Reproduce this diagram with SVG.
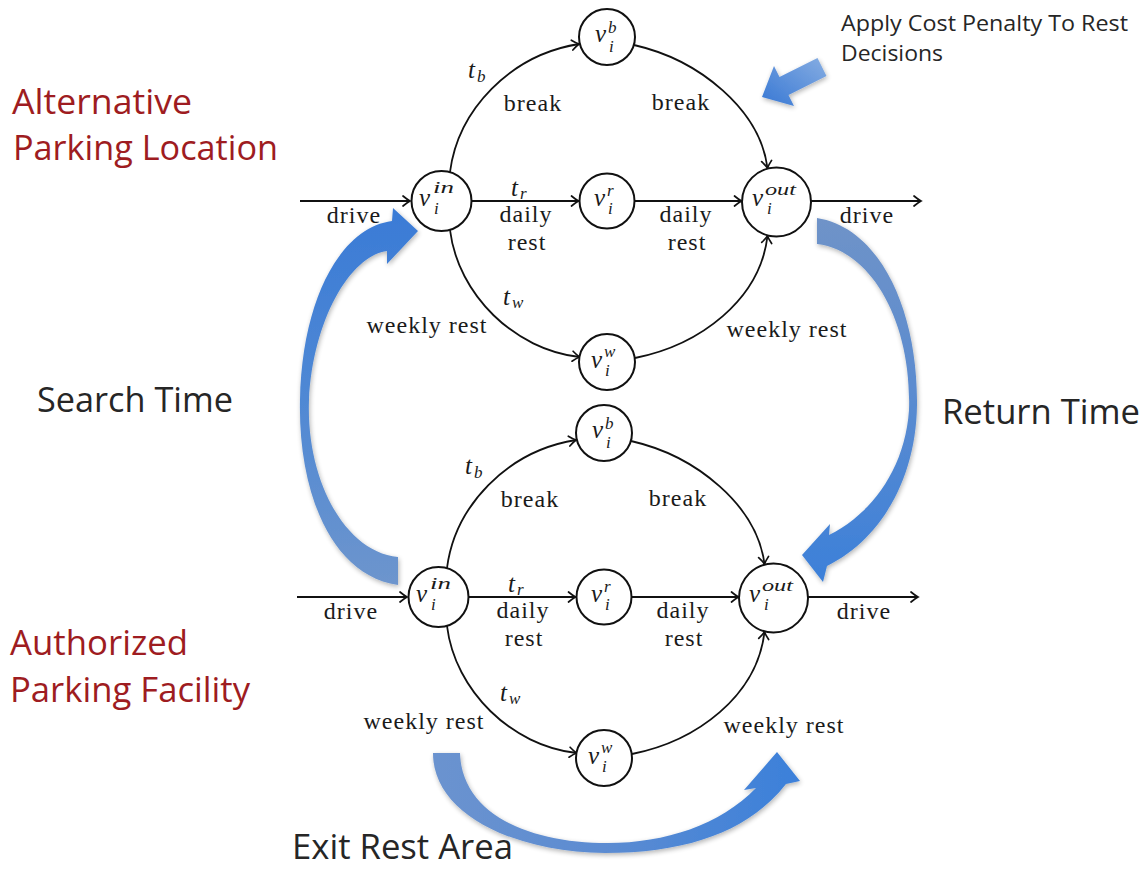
<svg xmlns="http://www.w3.org/2000/svg" width="1145" height="869" viewBox="0 0 1145 869">
  <style>
    .bg { fill: #ffffff; }
    .node circle { fill: #ffffff; stroke: #111111; stroke-width: 2; }
    .edge { fill: none; stroke: #111111; stroke-width: 1.8; marker-end: url(#to); }
    .lbl { font-family: "Liberation Serif", "DejaVu Serif", serif; font-size: 24px; letter-spacing: 1px; fill: #1a1a1a; text-anchor: middle; }
    .mi { font-family: "Liberation Serif", "DejaVu Serif", serif; font-style: italic; font-size: 25px; fill: #1a1a1a; }
    .ms { font-size: 17px; }
    .red { font-family: "Open Sans", "Noto Sans", sans-serif; font-size: 35px; fill: #9e1c21; }
    .dark { font-family: "Open Sans", "Noto Sans", sans-serif; font-size: 35px; fill: #262626; }
    .note { font-family: "Open Sans", "Noto Sans", sans-serif; font-size: 21px; fill: #262626; }
  </style>
  <defs>
    <marker id="to" viewBox="-9 -7 11 14" refX="0" refY="0" markerWidth="11" markerHeight="14" orient="auto" markerUnits="userSpaceOnUse">
      <path d="M-7,-5 C-4,-2.5 -1.5,-0.8 0,0 C-1.5,0.8 -4,2.5 -7,5" fill="none" stroke="#111111" stroke-width="1.7" stroke-linecap="round"/>
    </marker>
    <linearGradient id="gSearch" x1="0" y1="0" x2="0" y2="1">
      <stop offset="0" stop-color="#3a7bd6"/>
      <stop offset="0.5" stop-color="#4f88d4"/>
      <stop offset="1" stop-color="#6d95cd"/>
    </linearGradient>
    <linearGradient id="gReturn" x1="0" y1="0" x2="0" y2="1">
      <stop offset="0" stop-color="#6f93c8"/>
      <stop offset="0.5" stop-color="#5a8bd0"/>
      <stop offset="1" stop-color="#3c80d9"/>
    </linearGradient>
    <linearGradient id="gExit" x1="0" y1="0" x2="1" y2="0">
      <stop offset="0" stop-color="#6b93cf"/>
      <stop offset="0.5" stop-color="#5a8bd2"/>
      <stop offset="1" stop-color="#3b80da"/>
    </linearGradient>
    <linearGradient id="gPenalty" x1="1" y1="0" x2="0" y2="1">
      <stop offset="0" stop-color="#86ade2"/>
      <stop offset="1" stop-color="#3878d4"/>
    </linearGradient>
    <filter id="soft" x="-20%" y="-20%" width="140%" height="140%">
      <feGaussianBlur in="SourceAlpha" stdDeviation="2.5"/>
      <feOffset dx="1" dy="2"/>
      <feComponentTransfer><feFuncA type="linear" slope="0.3"/></feComponentTransfer>
      <feMerge><feMergeNode/><feMergeNode in="SourceGraphic"/></feMerge>
    </filter>
  </defs>

  <rect class="bg" x="0" y="0" width="1145" height="869"/>

  <!-- side captions -->
  <g id="captions">
    <text class="red" x="12" y="114" textLength="180" lengthAdjust="spacingAndGlyphs">Alternative</text>
    <text class="red" x="13" y="160" textLength="265" lengthAdjust="spacingAndGlyphs">Parking Location</text>
    <text class="dark" x="37" y="412" textLength="196" lengthAdjust="spacingAndGlyphs">Search Time</text>
    <text class="dark" x="942" y="424" textLength="198" lengthAdjust="spacingAndGlyphs">Return Time</text>
    <text class="red" x="10" y="655" textLength="178" lengthAdjust="spacingAndGlyphs">Authorized</text>
    <text class="red" x="10" y="702" textLength="240" lengthAdjust="spacingAndGlyphs">Parking Facility</text>
    <text class="dark" x="292" y="859" font-size="34" textLength="221" lengthAdjust="spacingAndGlyphs">Exit Rest Area</text>
    <text class="note" x="841" y="31" textLength="287" lengthAdjust="spacingAndGlyphs">Apply Cost Penalty To Rest</text>
    <text class="note" x="841" y="61" textLength="102" lengthAdjust="spacingAndGlyphs">Decisions</text>
  </g>

  <!-- upper network: alternative parking location -->
  <g id="upper-network">
    <g id="upper-connectors">
      <path class="edge" d="M300,201 H410"/>
      <path class="edge" d="M471.5,201 H578.5"/>
      <path class="edge" d="M634.5,201 H741.5"/>
      <path class="edge" d="M811,201 H921"/>
      <path class="edge" d="M450,172 C458,110 510,55 579,44"/>
      <path class="edge" d="M634,45 C700,60 760,110 767.5,168"/>
      <path class="edge" d="M450,230 C458,295 515,350 579.5,357"/>
      <path class="edge" d="M635,358 C700,345 760,300 767.5,236"/>
    </g>
    <g id="upper-edge-labels">
      <text class="lbl" x="354" y="223">drive</text>
      <text class="lbl" x="867" y="223">drive</text>
      <text class="lbl" x="533" y="111">break</text>
      <text class="lbl" x="681" y="110">break</text>
      <text class="lbl" x="526" y="222">daily</text>
      <text class="lbl" x="527" y="250">rest</text>
      <text class="lbl" x="686" y="222">daily</text>
      <text class="lbl" x="687" y="250">rest</text>
      <text class="lbl" x="427" y="333">weekly rest</text>
      <text class="lbl" x="787" y="337">weekly rest</text>
      <text class="mi" x="468" y="78">t</text><text class="mi ms" x="477" y="82">b</text>
      <text class="mi" x="511" y="196">t</text><text class="mi ms" x="520" y="199">r</text>
      <text class="mi" x="503" y="305">t</text><text class="mi ms" x="512" y="308">w</text>
    </g>
    <g id="upper-v-in" class="node">
      <circle cx="441.5" cy="201" r="30"/>
      <text class="mi" x="419" y="206">v</text>
      <text class="mi ms" x="433" y="193" textLength="21" lengthAdjust="spacingAndGlyphs">in</text>
      <text class="mi ms" x="434" y="214">i</text>
    </g>
    <g id="upper-v-b" class="node">
      <circle cx="607" cy="37" r="28"/>
      <text class="mi" x="595" y="42">v</text>
      <text class="mi ms" x="608" y="33">b</text>
      <text class="mi ms" x="609" y="52">i</text>
    </g>
    <g id="upper-v-r" class="node">
      <circle cx="607" cy="201" r="27.5"/>
      <text class="mi" x="594" y="206">v</text>
      <text class="mi ms" x="607" y="196">r</text>
      <text class="mi ms" x="608" y="214">i</text>
    </g>
    <g id="upper-v-w" class="node">
      <circle cx="607" cy="362" r="28"/>
      <text class="mi" x="591" y="368">v</text>
      <text class="mi ms" x="604" y="357">w</text>
      <text class="mi ms" x="605" y="376">i</text>
    </g>
    <g id="upper-v-out" class="node">
      <circle cx="776.5" cy="202" r="34.5"/>
      <text class="mi" x="752" y="206">v</text>
      <text class="mi ms" x="765" y="195" textLength="31" lengthAdjust="spacingAndGlyphs">out</text>
      <text class="mi ms" x="767" y="214">i</text>
    </g>
  </g>

  <!-- lower network: authorized parking facility -->
  <g id="lower-network" transform="translate(-3,396)">
    <g id="lower-connectors">
      <path class="edge" d="M300,201 H410"/>
      <path class="edge" d="M471.5,201 H578.5"/>
      <path class="edge" d="M634.5,201 H741.5"/>
      <path class="edge" d="M811,201 H921"/>
      <path class="edge" d="M450,172 C458,110 510,55 579,44"/>
      <path class="edge" d="M634,45 C700,60 760,110 767.5,168"/>
      <path class="edge" d="M450,230 C458,295 515,350 579.5,357"/>
      <path class="edge" d="M635,358 C700,345 760,300 767.5,236"/>
    </g>
    <g id="lower-edge-labels">
      <text class="lbl" x="354" y="223">drive</text>
      <text class="lbl" x="867" y="223">drive</text>
      <text class="lbl" x="533" y="111">break</text>
      <text class="lbl" x="681" y="110">break</text>
      <text class="lbl" x="526" y="222">daily</text>
      <text class="lbl" x="527" y="250">rest</text>
      <text class="lbl" x="686" y="222">daily</text>
      <text class="lbl" x="687" y="250">rest</text>
      <text class="lbl" x="427" y="333">weekly rest</text>
      <text class="lbl" x="787" y="337">weekly rest</text>
      <text class="mi" x="468" y="78">t</text><text class="mi ms" x="477" y="82">b</text>
      <text class="mi" x="511" y="196">t</text><text class="mi ms" x="520" y="199">r</text>
      <text class="mi" x="503" y="305">t</text><text class="mi ms" x="512" y="308">w</text>
    </g>
    <g id="lower-v-in" class="node">
      <circle cx="441.5" cy="201" r="30"/>
      <text class="mi" x="419" y="206">v</text>
      <text class="mi ms" x="433" y="193" textLength="21" lengthAdjust="spacingAndGlyphs">in</text>
      <text class="mi ms" x="434" y="214">i</text>
    </g>
    <g id="lower-v-b" class="node">
      <circle cx="607" cy="37" r="28"/>
      <text class="mi" x="595" y="42">v</text>
      <text class="mi ms" x="608" y="33">b</text>
      <text class="mi ms" x="609" y="52">i</text>
    </g>
    <g id="lower-v-r" class="node">
      <circle cx="607" cy="201" r="27.5"/>
      <text class="mi" x="594" y="206">v</text>
      <text class="mi ms" x="607" y="196">r</text>
      <text class="mi ms" x="608" y="214">i</text>
    </g>
    <g id="lower-v-w" class="node">
      <circle cx="607" cy="362" r="28"/>
      <text class="mi" x="591" y="368">v</text>
      <text class="mi ms" x="604" y="357">w</text>
      <text class="mi ms" x="605" y="376">i</text>
    </g>
    <g id="lower-v-out" class="node">
      <circle cx="776.5" cy="202" r="34.5"/>
      <text class="mi" x="752" y="206">v</text>
      <text class="mi ms" x="765" y="195" textLength="31" lengthAdjust="spacingAndGlyphs">out</text>
      <text class="mi ms" x="767" y="214">i</text>
    </g>
  </g>

  <!-- wide blue block arrows -->
  <g id="block-arrows" filter="url(#soft)">
    <path id="search-arrow" fill="url(#gSearch)"
          d="M398,585 C330,575 298,490 300,400 C302,300 340,228 392,221 L393,208 L418,231 L387,264 L387,251 C350,256 313,320 309,400 C306,480 345,552 398,557 Z"/>
    <path id="return-arrow" fill="url(#gReturn)"
          d="M817,218 C880,228 918,310 917,405 C916,480 880,540 827,566 L823,582 L802,555 L830,524 L829,535 C870,515 905,470 909,410 C912,320 870,250 817,244 Z"/>
    <path id="exit-arrow" fill="url(#gExit)"
          d="M433,753 C433,815 515,852 605,853 C690,853 750,830 786,784 L800,781 L777,752 L744,790 L756,788 C720,825 665,843 608,843 C530,843 462,815 460,753 Z"/>
    <path id="penalty-arrow" fill="url(#gPenalty)"
          d="M762,97 L774,66 L779.5,77 L817.5,58 L826.5,76 L788.5,95 L794,106 Z"/>
  </g>
</svg>
